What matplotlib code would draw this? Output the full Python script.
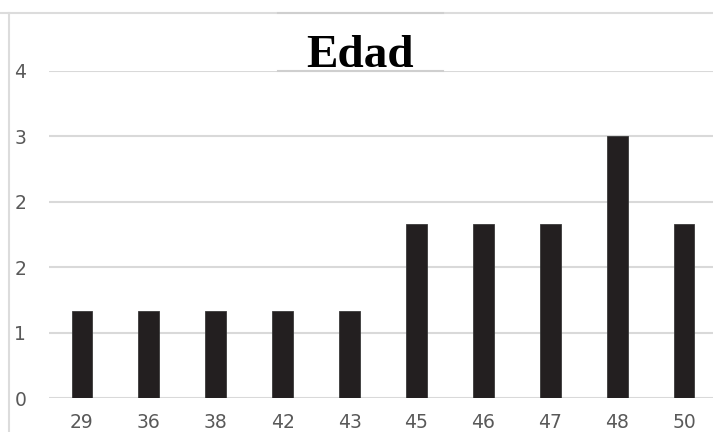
import numpy as np
import matplotlib
matplotlib.use('Agg')
import matplotlib.pyplot as plt
from matplotlib.lines import Line2D

ages = ['29', '36', '38', '42', '43', '45', '46', '47', '48', '50']
counts = [1, 1, 1, 1, 1, 2, 2, 2, 3, 2]
y_ticks = [0, 0.75, 1.5, 2.25, 3.0, 3.75]
y_labels = ['0', '1', '2', '2', '3', '4']

W, H = 713, 432
fig = plt.figure(figsize=(W / 100, H / 100), dpi=100)
ax = fig.add_axes([48.5 / W, 1 - 398 / H, (717.5 - 48.5) / W, (398 - 71) / H])

x = np.arange(len(ages))
ax.bar(x, counts, width=0.31, color='#231f20', edgecolor='#3a3a3a', linewidth=0.6, zorder=3)
ax.set_xlim(-0.5, len(ages) - 0.5)
ax.set_ylim(0, 3.75)
ax.set_yticks(y_ticks)
ax.set_yticklabels(y_labels)
ax.set_xticks(x)
ax.set_xticklabels(ages)
ax.grid(axis='y', color='#d9d9d9', lw=1.5, zorder=0)
for s in ax.spines.values():
    s.set_visible(False)
ax.tick_params(length=0, colors='#595959', labelsize=13.5)
ax.tick_params(axis='y', pad=16)
ax.tick_params(axis='x', pad=11)

# frame lines of the chart area
fig.add_artist(Line2D([0, 1], [1 - 13 / H] * 2, color='#dcdcdc', lw=1.5))
fig.add_artist(Line2D([278 / W, 443 / W], [1 - 13 / H] * 2, color='#cfcfcf', lw=1.5))
fig.add_artist(Line2D([278 / W, 443 / W], [1 - 71 / H] * 2, color='#cfcfcf', lw=1.5))
fig.add_artist(Line2D([9 / W] * 2, [0, 1 - 13 / H], color='#dcdcdc', lw=1.5))

fig.text(360 / W, 1 - 56 / H, 'Edad', ha='center', va='center', fontsize=34,
         fontweight='bold', family='Liberation Serif', color='#000000')

plt.savefig('out.png', dpi=100)
